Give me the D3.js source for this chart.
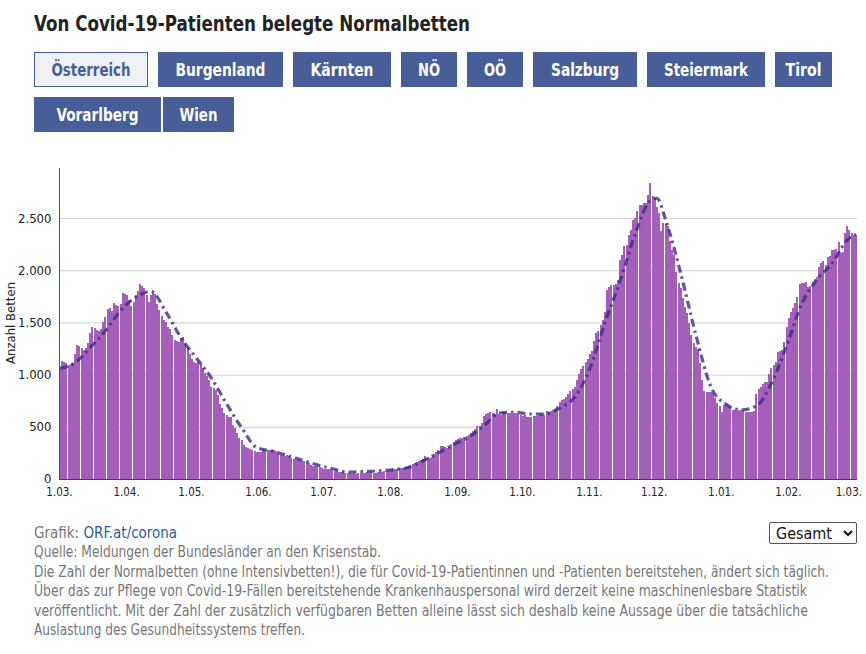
<!DOCTYPE html>
<html><head><meta charset="utf-8">
<script src="https://cdn.jsdelivr.net/npm/d3@7"></script>
<style>
html,body{margin:0;padding:0;background:#fff;}
#wrap{position:relative;width:866px;height:654px;overflow:hidden;}
svg{position:absolute;left:0;top:0;}
select{position:absolute;left:769px;top:522px;width:88px;height:22px;font-family:'Liberation Sans Narrow','DejaVu Sans Condensed',Roboto,sans-serif;font-size:16px;color:#111;background:#fff;border:1px solid #555;border-radius:2px;padding:0 2px;}
</style></head>
<body><div id="wrap"><svg id="chart" width="866" height="654"></svg>
<select><option>Gesamt</option></select></div>
<script>
// ---------- data ----------
const titleText = "Von Covid-19-Patienten belegte Normalbetten";
const regions = ["Österreich","Burgenland","Kärnten","NÖ","OÖ","Salzburg","Steiermark","Tirol","Vorarlberg","Wien"];
const startDate = "2021-03-01";
const beds = [
1055,1132,1120,1116,1095,1105,1110,1200,1285,1270,
1253,1240,1258,1300,1400,1461,1450,1429,1420,1440,
1500,1557,1630,1637,1610,1685,1670,1653,1680,1781,
1775,1760,1717,1659,1700,1765,1800,1870,1845,1829,
1760,1700,1760,1781,1770,1680,1621,1560,1525,1500,
1461,1440,1380,1333,1320,1317,1350,1365,1300,1269,
1200,1150,1125,1110,1126,1100,1062,1013,990,950,
880,870,850,806,720,680,630,610,598,590,
520,486,440,390,374,330,310,300,285,278,
265,262,260,262,285,280,278,275,278,276,
270,240,232,230,225,228,220,200,190,185,
182,178,175,172,160,150,130,125,122,120,
115,108,100,100,95,98,90,80,72,70,
68,66,58,55,53,52,54,52,56,60,
62,60,63,60,65,62,60,66,68,70,
72,75,78,85,95,98,100,102,108,110,
112,118,135,148,155,162,168,180,195,225,
210,205,215,240,258,275,320,318,305,300,
310,340,352,370,385,393,390,400,410,418,
440,462,480,505,512,540,604,620,635,640,
632,625,667,620,618,640,645,635,630,625,
632,628,620,612,600,610,598,595,597,600,
605,607,612,610,615,648,640,655,662,671,
700,735,760,767,790,815,840,863,880,950,
1006,1050,1086,1120,1150,1200,1230,1326,1395,1420,
1475,1523,1600,1811,1844,1860,1860,1870,1907,2100,
2150,2234,2240,2340,2388,2484,2500,2564,2628,2630,
2644,2640,2724,2836,2714,2690,2606,2548,2372,2452,
2446,2420,2276,2196,2150,1988,1876,1828,1732,1650,
1588,1492,1380,1300,1268,1250,1108,948,840,836,
830,836,820,772,730,700,643,707,722,700,
690,660,658,655,660,658,650,645,642,640,
645,650,818,866,880,914,925,930,1010,1060,
1090,1122,1218,1225,1234,1314,1458,1538,1602,1640,
1682,1746,1868,1881,1875,1890,1842,1850,1890,1920,
1938,2034,2066,2092,2050,2130,2140,2194,2190,2200,
2274,2162,2178,2354,2426,2386,2360,2338,2338];
// trend line (day index since start, value)
const trendDay = [0,7,14,21,28,35,42,49,56,63,70,77,84,91,98,105,112,119,126,133,140,147,154,161,168,175,182,189,196,203,210,217,224,231,238,245,252,259,266,273,276,280,287,294,301,308,315,322,329,336,343,350,357,364,368];
const trendVal = [1060,1115,1260,1420,1615,1740,1798,1600,1350,1160,965,720,490,300,268,225,180,135,98,66,72,78,90,110,175,250,330,400,510,630,640,623,622,680,785,1060,1500,1900,2350,2670,2690,2484,1970,1380,880,715,662,700,920,1280,1680,1910,2066,2290,2345];
const yTicks = [0,500,1000,1500,2000,2500];
const monthTicks = ["2021-03-01","2021-04-01","2021-05-01","2021-06-01","2021-07-01","2021-08-01","2021-09-01","2021-10-01","2021-11-01","2021-12-01","2022-01-01","2022-02-01","2022-03-01"];
const yLabel = "Anzahl Betten";
const footLines = [
 "Quelle: Meldungen der Bundesländer an den Krisenstab.",
 "Die Zahl der Normalbetten (ohne Intensivbetten!), die für Covid-19-Patientinnen und -Patienten bereitstehen, ändert sich täglich.",
 "Über das zur Pflege von Covid-19-Fällen bereitstehende Krankenhauspersonal wird derzeit keine maschinenlesbare Statistik",
 "veröffentlicht. Mit der Zahl der zusätzlich verfügbaren Betten alleine lässt sich deshalb keine Aussage über die tatsächliche",
 "Auslastung des Gesundheitssystems treffen."];

// ---------- drawing ----------
const FONT = "'Liberation Sans Narrow','DejaVu Sans Condensed','Roboto Condensed',Roboto,sans-serif";
const svg = d3.select("#chart");
function fit(sel, w){ sel.each(function(){ const n=this; const cw=n.getComputedTextLength(); if(Math.abs(cw-w)>1){ d3.select(n).attr("textLength",w).attr("lengthAdjust","spacingAndGlyphs"); } }); }

svg.append("text").attr("x",34).attr("y",31).attr("font-family",FONT).attr("font-weight","bold")
  .attr("font-size",22).attr("fill","#222").text(titleText).call(fit,436);

const btnBox = [[34,52,114],[158,52,125],[293,52,98],[401,52,56],[467,52,56],[533,52,104],[647,52,118],[775,52,57],[34,97,127],[163,97,71]];
const btnTxt = [79,90,63,22,22,68,84,36,82,38];
const bg = svg.append("g");
regions.forEach((r,i)=>{
  const [bx,by,bw]=btnBox[i]; const active = i===0;
  bg.append("rect").attr("x",bx+0.5).attr("y",by+0.5).attr("width",bw-1).attr("height",34)
    .attr("fill",active?"#eff1f7":"#475e98").attr("stroke","#475e98").attr("stroke-width",1);
  bg.append("text").attr("x",bx+bw/2).attr("y",by+24).attr("text-anchor","middle")
    .attr("font-family",FONT).attr("font-weight","bold").attr("font-size",18)
    .attr("fill",active?"#475e98":"#fff").text(r).call(fit,btnTxt[i]);
});

const parse = d3.timeParse("%Y-%m-%d");
const t0 = parse(startDate);
const dates = beds.map((v,i)=>d3.timeDay.offset(t0,i));
const x = d3.scaleTime().domain([t0, d3.timeDay.offset(t0,beds.length)]).range([59,857]);
const y = d3.scaleLinear().domain([0,2980]).range([479,168]);
const bw = x(d3.timeDay.offset(t0,1))-x(t0);

// grid
svg.append("g").selectAll("line").data(yTicks.slice(1)).join("line")
  .attr("x1",59).attr("x2",857).attr("y1",d=>y(d)+0.5).attr("y2",d=>y(d)+0.5)
  .attr("stroke","#cfcfcf").attr("stroke-width",1);

// bars
svg.append("g").attr("shape-rendering","crispEdges").selectAll("rect").data(beds).join("rect")
  .attr("x",(d,i)=>x(dates[i])).attr("width",2)
  .attr("y",d=>y(d)).attr("height",d=>y(0)-y(d)).attr("fill","#a35fba");

// trend line
const line = d3.line().x((d,i)=>x(d3.timeDay.offset(t0,trendDay[i]))+bw/2).y(d=>y(d)).curve(d3.curveMonotoneX);
svg.append("path").attr("d",line(trendVal)).attr("fill","none").attr("stroke","#3a2a8c")
  .attr("stroke-opacity",0.8).attr("stroke-width",3.2).attr("stroke-dasharray","8,4,2.5,4");

// axes
const yAxis = d3.axisLeft(y).tickValues(yTicks).tickSize(0).tickPadding(8)
  .tickFormat(d=>d3.format(",")(d).replace(/,/g,"."));
const gy = svg.append("g").attr("transform","translate(59.5,0)").call(yAxis);
gy.select(".domain").attr("d","M0,168V479").attr("stroke","#555");
gy.selectAll("text").attr("font-family",FONT).attr("font-size",13).attr("fill","#222").attr("dy","0.3em");

const xAxis = d3.axisBottom(x).tickValues(monthTicks.map(parse)).tickSize(0).tickPadding(8)
  .tickFormat(d3.timeFormat("%-d.%m."));
const gx = svg.append("g").attr("transform","translate(0,479.5)").call(xAxis);
gx.select(".domain").attr("d","M59,0H857").attr("stroke","#444");
gx.selectAll("text").attr("font-family",FONT).attr("font-size",11.5).attr("fill","#222");

svg.append("text").attr("transform","translate(15,323) rotate(-90)").attr("text-anchor","middle")
  .attr("font-family",FONT).attr("font-size",13).attr("fill","#222").text(yLabel);

// footer
const ft = svg.append("text").attr("x",34).attr("y",538).attr("font-family",FONT).attr("font-size",15).attr("fill","#777");
ft.append("tspan").text("Grafik: ");
ft.append("tspan").attr("fill","#2d5b9f").text("ORF.at/corona");
const fw = [347,795,773,774,271];
footLines.forEach((s,i)=>{
  svg.append("text").attr("x",34).attr("y",557+i*19.6).attr("font-family",FONT).attr("font-size",15)
    .attr("fill","#777").text(s).call(fit,fw[i]);
});
</script></body></html>
